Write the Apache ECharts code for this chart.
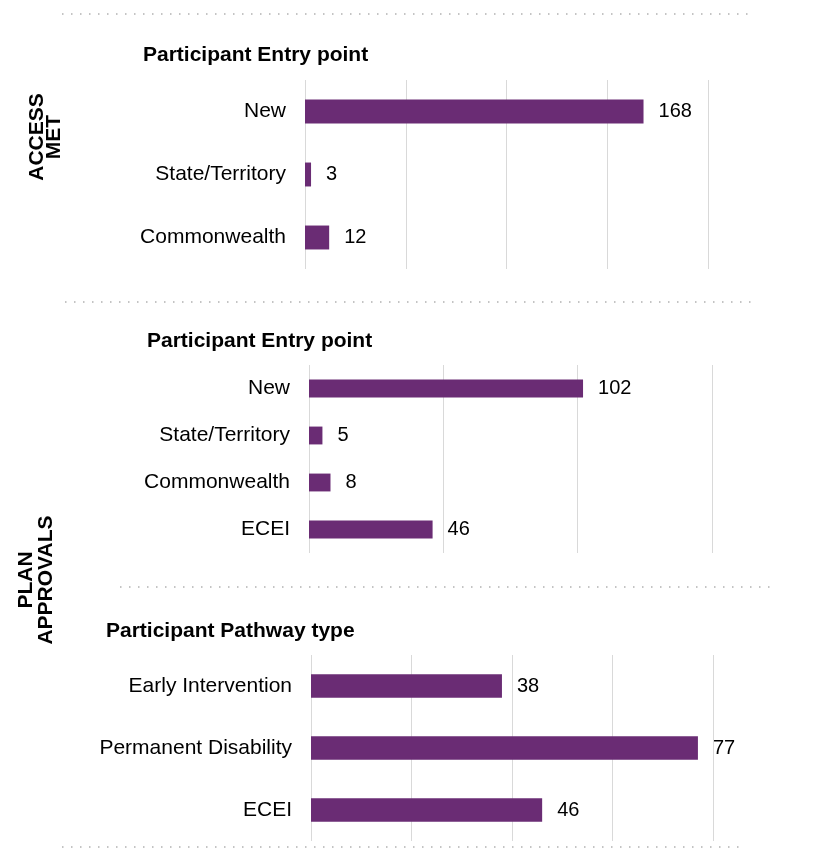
<!DOCTYPE html>
<html>
<head>
<meta charset="utf-8">
<script src="https://cdn.jsdelivr.net/npm/echarts@6/dist/echarts.min.js"></script>
<style>
html,body{margin:0;padding:0;background:#fff;}
#chart{width:813px;height:849px;}
</style>
</head>
<body>
<div id="chart"></div>
<script>
// ---- data ----
const accessCategories = ['New', 'State/Territory', 'Commonwealth'];
const accessValues = [168, 3, 12];
const planEntryCategories = ['New', 'State/Territory', 'Commonwealth', 'ECEI'];
const planEntryValues = [102, 5, 8, 46];
const pathwayCategories = ['Early Intervention', 'Permanent Disability', 'ECEI'];
const pathwayValues = [38, 77, 46];
const titles = ['Participant Entry point', 'Participant Entry point', 'Participant Pathway type'];
const sectionLabels = ['ACCESS\nMET', 'PLAN\nAPPROVALS'];

const FONT = '"Liberation Sans", Arial, sans-serif';
const PURPLE = '#6a2c74';

const chart = echarts.init(document.getElementById('chart'), null, {renderer: 'canvas'});

const grids = [
  {left: 305, right: 105, top: 80, height: 189},
  {left: 309, right: 101, top: 365, height: 188},
  {left: 311, right: 100, top: 655, height: 186}
];
const axisMax = [200, 150, 80];
const axisInterval = [50, 50, 20];
const cats = [accessCategories, planEntryCategories, pathwayCategories];
const vals = [accessValues, planEntryValues, pathwayValues];

const xAxes = grids.map((g, i) => ({
  type: 'value', gridIndex: i, min: 0, max: axisMax[i], interval: axisInterval[i],
  axisLabel: {show: false}, axisLine: {show: false}, axisTick: {show: false},
  splitLine: {show: true, lineStyle: {color: '#d9d9d9', width: 1}}
}));
const yAxes = grids.map((g, i) => ({
  type: 'category', gridIndex: i, data: cats[i], inverse: true,
  axisLine: {show: false}, axisTick: {show: false},
  axisLabel: {color: '#000', fontSize: 21, fontFamily: FONT, margin: 19}
}));
const series = grids.map((g, i) => ({
  type: 'bar', xAxisIndex: i, yAxisIndex: i, data: vals[i], barWidth: '38%',
  itemStyle: {color: PURPLE},
  label: {show: true, position: 'right', distance: 15, color: '#000', fontSize: 20, fontFamily: FONT},
  silent: true
}));

const titleTops = [45, 331, 621];
const titleLefts = [143, 147, 106];
const title = titles.map((t, i) => ({
  text: t, left: titleLefts[i], top: titleTops[i], padding: 0,
  textStyle: {fontSize: 21, fontWeight: 'bold', color: '#000', fontFamily: FONT}
}));

function dotted(x1, x2, y) {
  return {type: 'line', shape: {x1: x1, y1: y, x2: x2, y2: y}, silent: true,
    style: {stroke: '#c4c4c4', lineWidth: 2, lineDash: [1.5, 7.5]}};
}

const graphic = [
  dotted(62, 750, 14),
  dotted(65, 755, 302),
  dotted(120, 770, 587),
  dotted(62, 740, 847),
  {type: 'text', x: 46, y: 137, rotation: Math.PI / 2, silent: true,
    style: {text: sectionLabels[0], fontSize: 21, fontWeight: 'bold', fontFamily: FONT, fill: '#000',
      align: 'center', verticalAlign: 'middle', lineHeight: 17}},
  {type: 'text', x: 36, y: 580, rotation: Math.PI / 2, silent: true,
    style: {text: sectionLabels[1], fontSize: 21, fontWeight: 'bold', fontFamily: FONT, fill: '#000',
      align: 'center', verticalAlign: 'middle', lineHeight: 20}}
];

chart.setOption({
  backgroundColor: '#fff',
  animation: false,
  title: title,
  grid: grids,
  xAxis: xAxes,
  yAxis: yAxes,
  series: series,
  graphic: graphic
});
</script>
</body>
</html>
